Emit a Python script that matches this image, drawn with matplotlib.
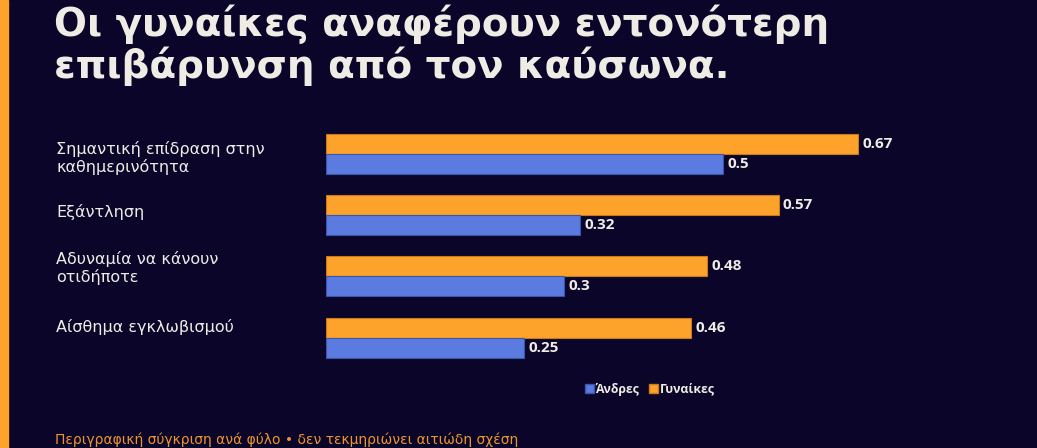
import matplotlib.pyplot as plt
from matplotlib.patches import Patch, Rectangle

# data
categories = [
    'Σημαντική επίδραση στην\nκαθημερινότητα',
    'Εξάντληση',
    'Αδυναμία να κάνουν\nοτιδήποτε',
    'Αίσθημα εγκλωβισμού',
]
women = [0.67, 0.57, 0.48, 0.46]
men = [0.5, 0.32, 0.3, 0.25]

title = 'Οι γυναίκες αναφέρουν εντονότερη\nεπιβάρυνση από τον καύσωνα.'
note = 'Περιγραφική σύγκριση ανά φύλο • δεν τεκμηριώνει αιτιώδη σχέση'

BG = '#0a0529'
ORANGE = '#fda22b'
BLUE = '#5b7be0'
TEXT = '#efece6'

W, H = 1037, 448
fig = plt.figure(figsize=(W / 100, H / 100), dpi=100, facecolor=BG)

# orange strip on the left edge
fig.patches.append(Rectangle((0, 0), 8 / W, 1, transform=fig.transFigure,
                             color=ORANGE, zorder=0))

fig.text(54 / W, 1 - 5 / H, title, ha='left', va='top', color=TEXT,
         fontsize=28, fontweight='bold', family='DejaVu Sans', linespacing=1.06)

ax = fig.add_axes([326 / W, 1 - 368.3 / H, (975 - 326) / W, 245.3 / H])
ax.set_facecolor(BG)
h = 0.325
ys = list(range(len(categories)))
b1 = ax.barh([y - h / 2 for y in ys], women, height=h, color=ORANGE,
             edgecolor='#c97a1a', linewidth=0.8)
b2 = ax.barh([y + h / 2 for y in ys], men, height=h, color=BLUE,
             edgecolor='#3d55a8', linewidth=0.8)
ax.set_xlim(0, max(women) * 1.22)
ax.set_ylim(3.5, -0.5)
ax.axis('off')

for bars, vals in ((b1, women), (b2, men)):
    for rect, v in zip(bars, vals):
        ax.annotate(f'{v:g}', (rect.get_width(), rect.get_y() + rect.get_height() / 2),
                    xytext=(3, 0), textcoords='offset points', ha='left', va='center',
                    color=TEXT, fontsize=11, fontweight='bold', family='Open Sans')

label_y = [158, 212, 268, 327]
for lab, yp in zip(categories, label_y):
    fig.text(56 / W, 1 - yp / H, lab, ha='left', va='center', color=TEXT,
             fontsize=11.5, family='DejaVu Sans', linespacing=1.2)

handles = [Patch(facecolor=BLUE, edgecolor='#3d55a8', label='Άνδρες'),
           Patch(facecolor=ORANGE, edgecolor='#c97a1a', label='Γυναίκες')]
leg = fig.legend(handles=handles, loc='center', bbox_to_anchor=(650 / W, 1 - 389 / H),
                 ncol=2, frameon=False, handlelength=0.7, handleheight=0.7,
                 handletextpad=0.15, columnspacing=0.8,
                 prop={'family': 'Open Sans', 'weight': 'bold', 'size': 8.8})
for t in leg.get_texts():
    t.set_color(TEXT)

fig.text(55 / W, 1 - 440 / H, note, ha='left', va='center', color='#ec952f',
         fontsize=10, family='DejaVu Sans')

fig.savefig('out.png', dpi=100, facecolor=BG)
